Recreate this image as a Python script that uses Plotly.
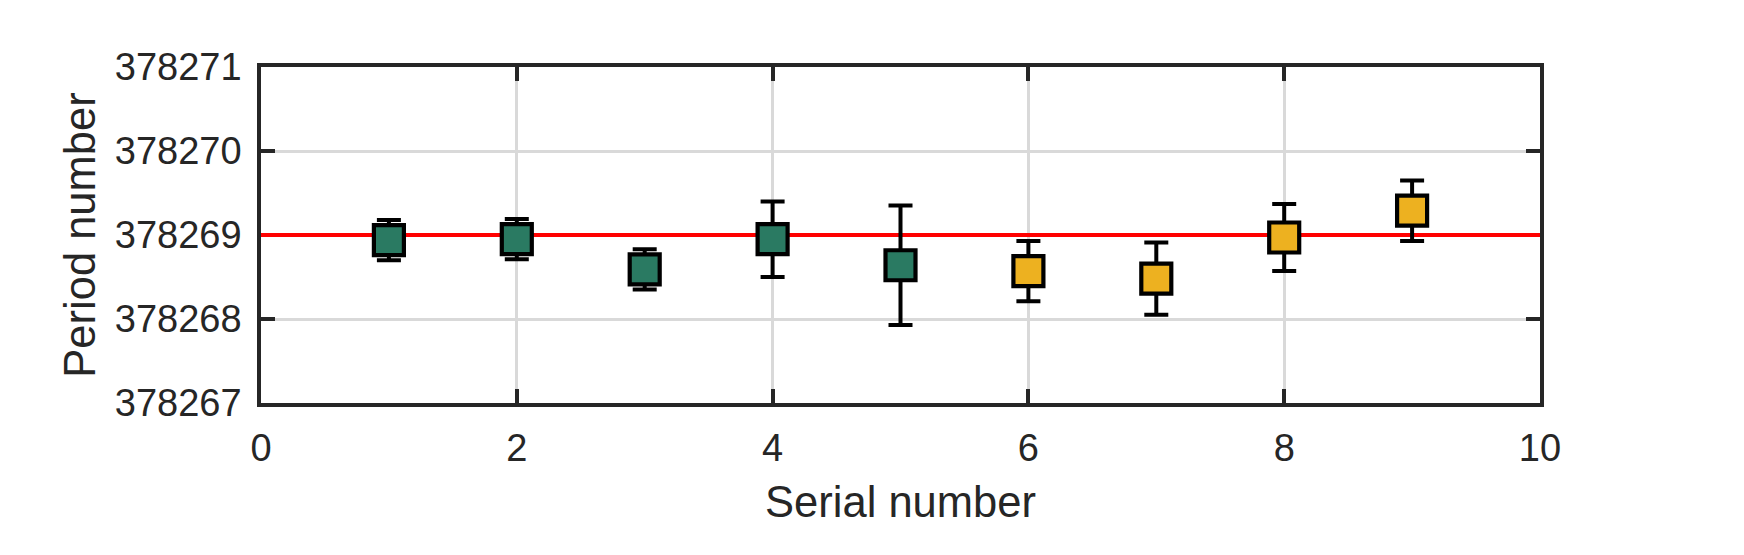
import plotly.graph_objects as go

# ---- data ----
serial_a = [1, 2, 3, 4, 5]
period_a = [378268.94, 378268.95, 378268.59, 378268.95, 378268.64]
err_a = [0.24, 0.24, 0.24, 0.45, 0.71]

serial_b = [6, 7, 8, 9]
period_b = [378268.57, 378268.48, 378268.97, 378269.29]
err_b = [0.36, 0.43, 0.40, 0.36]

ref_period = 378269
x_limits = [0, 10]
y_limits = [378267, 378271]
x_ticks = [0, 2, 4, 6, 8, 10]
y_ticks = [378267, 378268, 378269, 378270, 378271]

GREEN = "#2a7a62"
YELLOW = "#edb120"
AX = "#262626"
FONT = "Liberation Sans, Arial, Helvetica, sans-serif"

fig = go.Figure()

# reference line
fig.add_trace(go.Scatter(
    x=x_limits, y=[ref_period, ref_period], mode="lines",
    line=dict(color="#ff0000", width=4), showlegend=False, hoverinfo="skip",
    cliponaxis=False))

for xs, ys, es, col in [(serial_a, period_a, err_a, GREEN),
                        (serial_b, period_b, err_b, YELLOW)]:
    fig.add_trace(go.Scatter(
        x=xs, y=ys, mode="markers",
        marker=dict(symbol="square", size=30, color=col,
                    line=dict(color="black", width=4.2)),
        error_y=dict(type="data", array=es, visible=True,
                     color="black", thickness=4, width=12),
        showlegend=False))

axis_common = dict(
    showline=True, linecolor=AX, linewidth=3.5, mirror="ticks",
    ticks="inside", ticklen=14, tickwidth=3.5, tickcolor=AX,
    showgrid=True, gridcolor="#d9d9d9", gridwidth=3,
    zeroline=False, layer="below traces",
    tickfont=dict(family=FONT, size=38, color=AX),
)

fig.update_xaxes(range=x_limits, tickvals=x_ticks, **axis_common,
                 ticklabelstandoff=9,
                 title=dict(text="Serial number", standoff=19,
                            font=dict(family=FONT, size=43.5, color=AX)))
fig.update_yaxes(range=y_limits, tickvals=y_ticks, tickformat="d", **axis_common,
                 ticklabelstandoff=8,
                 title=dict(text="Period number", standoff=7,
                            font=dict(family=FONT, size=43.5, color=AX)))

# page body has an 8px default margin, so offsets are compensated here
fig.update_layout(
    width=1744, height=555,
    margin=dict(l=253, r=212, t=59, b=160),
    plot_bgcolor="white", paper_bgcolor="white",
)

fig.write_html("out.html")
